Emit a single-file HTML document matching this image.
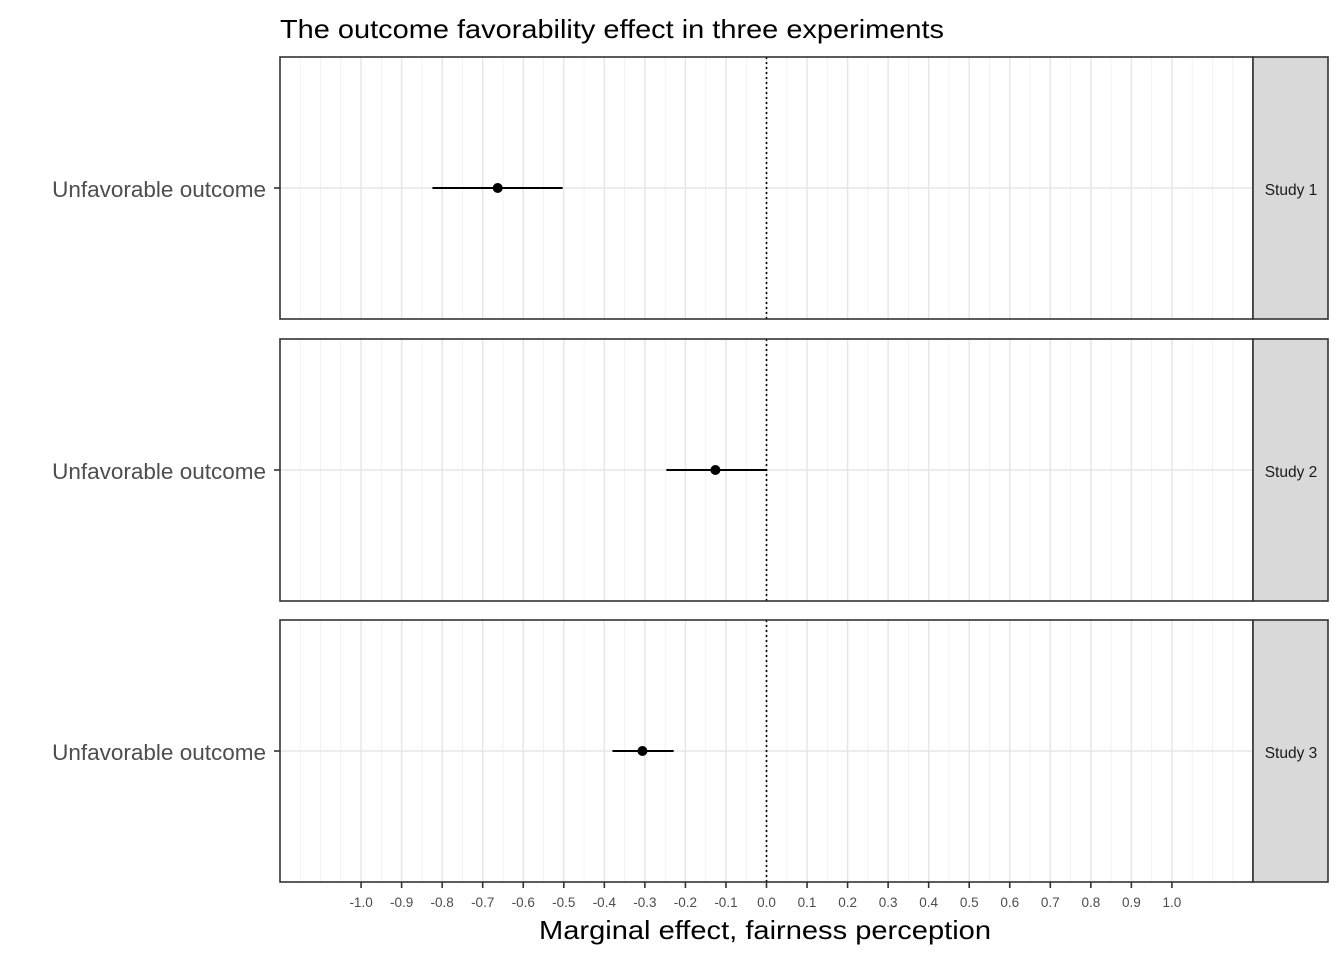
<!DOCTYPE html>
<html><head><meta charset="utf-8"><style>body{margin:0;background:#fff}svg{display:block;font-family:"Liberation Sans",Arial,sans-serif}</style></head>
<body>
<svg id="chart" width="1344" height="960">
<text x="280" y="38" font-size="26" textLength="664" lengthAdjust="spacingAndGlyphs" fill="#000">The outcome favorability effect in three experiments</text>
<text x="539" y="939" font-size="26" textLength="452" lengthAdjust="spacingAndGlyphs" fill="#000">Marginal effect, fairness perception</text>
<g id="plot"></g>
</svg>
<script>
const studies = ["Study 1", "Study 2", "Study 3"];
const estimates = [-0.663, -0.126, -0.306];
const lowers = [-0.824, -0.247, -0.380];
const uppers = [-0.503, 0.0, -0.229];
const tickValues = [-1.0,-0.9,-0.8,-0.7,-0.6,-0.5,-0.4,-0.3,-0.2,-0.1,0.0,0.1,0.2,0.3,0.4,0.5,0.6,0.7,0.8,0.9,1.0];
const tickLabels = ["-1.0","-0.9","-0.8","-0.7","-0.6","-0.5","-0.4","-0.3","-0.2","-0.1","0.0","0.1","0.2","0.3","0.4","0.5","0.6","0.7","0.8","0.9","1.0"];
const rowLabel = "Unfavorable outcome";

const NS = "http://www.w3.org/2000/svg";
const g = document.getElementById("plot");
const px0 = 280, px1 = 1253;
const x = v => px0 + (v + 1.2) / 2.4 * (px1 - px0);
const panelTops = [57, 339, 620], ph = 262;
function mk(tag, attrs, parent) { const e = document.createElementNS(NS, tag); for (const k in attrs) e.setAttribute(k, attrs[k]); (parent || g).appendChild(e); return e; }

studies.forEach((s, i) => {
  const top = panelTops[i], cy = top + ph / 2;
  const pg = mk("g", {});
  
  
  mk("rect", {x: px0, y: top, width: px1 - px0, height: ph, fill: "#fff"}, pg);
  for (let k = -23; k <= 23; k++) {
    const v = k * 0.05; const major = k % 2 === 0 && Math.abs(k) <= 20;
    mk("line", {x1: x(v), x2: x(v), y1: top, y2: top + ph, stroke: major ? "#e6e6e6" : "#efefef", "stroke-width": major ? 1.5 : 0.8}, pg);
  }
  mk("line", {x1: px0, x2: px1, y1: cy, y2: cy, stroke: "#e6e6e6", "stroke-width": 1.5}, pg);
  mk("line", {x1: x(0), x2: x(0), y1: top, y2: top + ph, stroke: "#000", "stroke-width": 1.6, "stroke-dasharray": "2,3"}, pg);
  const ci = mk("line", {x1: x(lowers[i]), x2: x(uppers[i]), y1: cy, y2: cy, stroke: "#000", "stroke-width": 2}, pg);
  
  
  const pt = mk("circle", {cx: x(estimates[i]), cy: cy, r: 5, fill: "#000"}, pg);
  
  
  mk("rect", {x: px0, y: top, width: px1 - px0, height: ph, fill: "none", stroke: "#333", "stroke-width": 1.6}, pg);
  mk("rect", {x: px1, y: top, width: 75, height: ph, fill: "#d9d9d9", stroke: "#333", "stroke-width": 1.6}, pg);
  const st = mk("text", {x: px1 + 38, y: cy + 7, "font-size": 15.5, "text-anchor": "middle", fill: "#1a1a1a"}, pg);
  st.textContent = s;
  
  
  mk("line", {x1: px0 - 6, x2: px0, y1: cy, y2: cy, stroke: "#333", "stroke-width": 1.6}, pg);
  const yl = mk("text", {x: 266, y: cy + 9, "font-size": 22.5, "text-anchor": "end", fill: "#4d4d4d"}, pg);
  yl.textContent = rowLabel;
  
  
});
const bottom = panelTops[2] + ph;
tickValues.forEach((v, j) => {
  mk("line", {x1: x(v), x2: x(v), y1: bottom, y2: bottom + 6, stroke: "#333", "stroke-width": 1.6});
  const t = mk("text", {x: x(v), y: bottom + 25, "font-size": 13.5, "text-anchor": "middle", fill: "#4d4d4d"});
  t.textContent = tickLabels[j];
  
  
});
</script>
</body></html>
